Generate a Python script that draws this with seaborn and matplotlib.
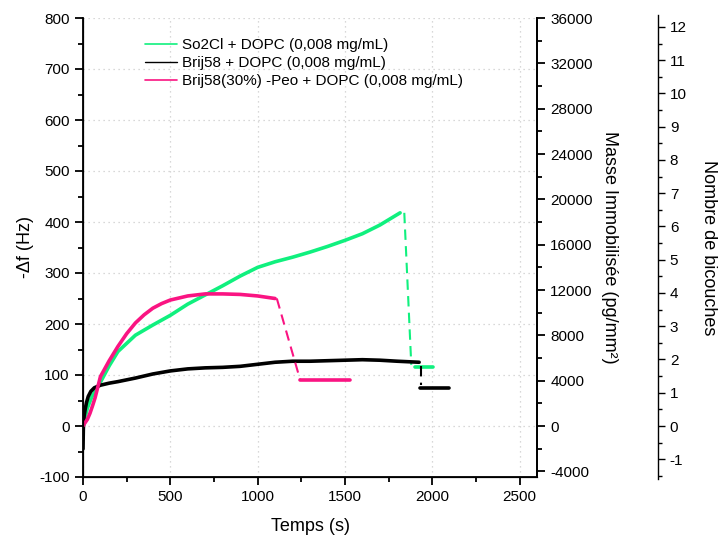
import matplotlib
matplotlib.use("Agg")
import matplotlib.pyplot as plt
from matplotlib.ticker import MultipleLocator
from matplotlib.lines import Line2D
import seaborn as sns
import pandas as pd

# ---------------- data ----------------
labels = ["So2Cl + DOPC (0,008 mg/mL)",
          "Brij58 + DOPC (0,008 mg/mL)",
          "Brij58(30%) -Peo + DOPC (0,008 mg/mL)"]

green_t = [0, 25, 50, 100, 150, 200, 300, 400, 500, 600, 700, 800, 900, 1000,
           1100, 1200, 1300, 1400, 1500, 1600, 1700, 1816]
green_f = [0, 35, 57, 86, 118, 146, 178, 198, 217, 239, 257, 275, 294, 311,
           322, 331, 341, 352, 364, 377, 394, 418]
green2_t = [1900, 2006]
green2_f = [116, 116]
green_drop_t = [1840, 1880]
green_drop_f = [418, 120]

black_t = [0, 2, 6, 12, 20, 30, 45, 65, 100, 150, 200, 300, 400, 500, 600, 700,
           800, 900, 1000, 1100, 1200, 1300, 1400, 1500, 1600, 1700, 1800, 1925]
black_f = [-45, -5, 18, 32, 46, 58, 68, 75, 80, 84, 87, 94, 102, 108, 112, 114,
           115, 117, 121, 125, 127, 127, 128, 129, 130, 129, 127, 125]
black2_t = [1930, 2097]
black2_f = [74, 74]
black_drop_t = [1937, 1937]
black_drop_f = [118, 80]

pink_t = [0, 11, 25, 40, 55, 69, 100, 150, 200, 250, 300, 350, 400, 450, 500,
          550, 600, 700, 800, 900, 1000, 1100]
pink_f = [0, 6, 13, 25, 40, 55, 97, 128, 156, 181, 202, 218, 231, 240, 247,
          251, 255, 259, 259, 258, 255, 250]
pink2_t = [1244, 1530]
pink2_f = [90, 90]
pink_drop_t = [1110, 1244]
pink_drop_f = [250, 90]

# ---------------- style ----------------
sns.set_style("ticks")
plt.rcParams["font.family"] = ["Liberation Sans", "DejaVu Sans"]
plt.rcParams["axes.unicode_minus"] = False
plt.rcParams["text.color"] = "black"
plt.rcParams["axes.labelcolor"] = "black"
plt.rcParams["xtick.color"] = "black"
plt.rcParams["ytick.color"] = "black"
plt.rcParams["axes.edgecolor"] = "black"

GREEN = "#10F07E"
BLACK = "#000000"
PINK = "#FA1482"

fig = plt.figure(figsize=(7.21, 5.35), dpi=100)
ax = fig.add_axes([83 / 721, 1 - 477 / 535, (537 - 83) / 721, (477 - 18) / 535])

def seg(t, f, color, lw=2.6, ls="-"):
    df = pd.DataFrame({"t": t, "f": f})
    sns.lineplot(data=df, x="t", y="f", ax=ax, color=color, lw=lw, ls=ls,
                 estimator=None, sort=False, legend=False)

seg(green_t, green_f, GREEN)
seg(green_drop_t, green_drop_f, GREEN, lw=1.5, ls=(0, (5, 3)))
seg(green2_t, green2_f, GREEN)
seg(black_t, black_f, BLACK)
seg(black_drop_t, black_drop_f, BLACK, lw=1.5, ls=(0, (5, 3)))
seg(black2_t, black2_f, BLACK)
seg(pink_t, pink_f, PINK)
seg(pink_drop_t, pink_drop_f, PINK, lw=1.5, ls=(0, (5, 3)))
seg(pink2_t, pink2_f, PINK)

ax.set_xlim(0, 2600)
ax.set_ylim(-100, 800)
ax.xaxis.set_major_locator(MultipleLocator(500))
ax.xaxis.set_minor_locator(MultipleLocator(250))
ax.yaxis.set_major_locator(MultipleLocator(100))
ax.yaxis.set_minor_locator(MultipleLocator(50))
ax.grid(True, which="major", ls=(0, (1, 3)), color="#cccccc", lw=0.9)
ax.spines["top"].set_visible(False)
for s in ["left", "bottom", "right"]:
    ax.spines[s].set_linewidth(1.3)
ax.tick_params(which="major", length=6, width=1.3, labelsize=11, color="black")
ax.tick_params(which="minor", length=3.5, width=1.3)
ax.set_xlabel("Temps (s)", fontsize=13, labelpad=10)
ax.set_ylabel("-\u0394f (Hz)", fontsize=13, labelpad=4)

# legend
handles = [Line2D([], [], color=GREEN, lw=1.2),
           Line2D([], [], color=BLACK, lw=1.0),
           Line2D([], [], color=PINK, lw=1.2)]
ax.legend(handles, labels, loc="upper left", bbox_to_anchor=(0.123, 0.97),
          frameon=False, fontsize=11, handlelength=2.1, handletextpad=0.35,
          labelspacing=0.28, borderaxespad=0)

# right axis 1: mass
ax2 = ax.twinx()
ax2.set_ylim(-100 * 45, 800 * 45)
ax2.yaxis.set_major_locator(MultipleLocator(4000))
ax2.yaxis.set_minor_locator(MultipleLocator(2000))
ax2.tick_params(which="major", length=6, width=1.3, labelsize=11)
ax2.tick_params(which="minor", length=3.5, width=1.3)
ax2.spines["right"].set_linewidth(1.3)
ax2.spines["top"].set_visible(False)
ax2.set_ylabel("Masse Immobilisée (pg/mm²)", fontsize=13, rotation=270, labelpad=18)

# right axis 2: bilayers
ax3 = ax.twinx()
k = 65.2
ax3.set_ylim(-100 / k, 800 / k)
ax3.spines["right"].set_position(("outward", 121 * 72 / 100))
ax3.spines["right"].set_linewidth(1.0)
ax3.spines["top"].set_visible(False)
ax3.spines["right"].set_bounds(-1.6, 12.35)
ax3.yaxis.set_major_locator(MultipleLocator(1))
ax3.yaxis.set_minor_locator(MultipleLocator(0.5))
ax3.tick_params(which="major", length=5, width=1.0, labelsize=11)
ax3.tick_params(which="minor", length=3, width=1.0)
ax3.set_ylabel("Nombre de bicouches", fontsize=13, rotation=270, labelpad=22)
ax3.grid(False)
ax2.grid(False)

fig.savefig("out.png", dpi=100)
